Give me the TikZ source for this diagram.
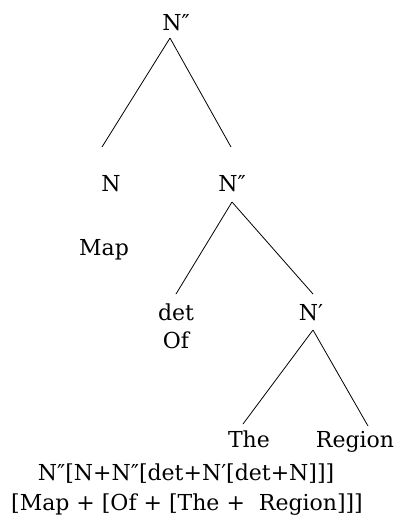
\documentclass[tikz,border=0pt]{standalone}
\usepackage{fontspec}
\setmainfont{DejaVu Serif}
\begin{document}
\begin{tikzpicture}[x=1pt,y=-1pt,
  lbl/.style={anchor=base,inner sep=0pt,font=\fontsize{22}{26}\selectfont},
  branch/.style={line width=0.8pt}]
\useasboundingbox (0,0) rectangle (401,523);

% tree labels
\node[lbl] (root)   at (176,30)  {N″};
\node[lbl] (n)      at (111,191) {N};
\node[lbl] (nbar)   at (232,191) {N″};
\node[lbl] (map)    at (104,255) {Map};
\node[lbl] (det)    at (176,320) {det};
\node[lbl] (of)     at (176,348) {Of};
\node[lbl] (nprime) at (311,320) {N′};
\node[lbl] (the)    at (249,447) {The};
\node[lbl] (region) at (355,447) {Region};

% bracketed summaries
\node[lbl] (struct) at (186,480) {N″[N+N″[det+N′[det+N]]]};
\node[lbl] (words)  at (187,510) {[Map + [Of + [The +~ Region]]]};

% branch end points
\coordinate (root-s)     at (170,38);
\coordinate (n-top)      at (102,147);
\coordinate (nbar-top)   at (231,147);
\coordinate (nbar-s)     at (232,202);
\coordinate (det-top)    at (176,294);
\coordinate (nprime-top) at (313,294);
\coordinate (nprime-s)   at (313,330);
\coordinate (the-top)    at (243,424);
\coordinate (region-top) at (368,426);

% branches
\draw[branch] (root-s) -- (n-top);
\draw[branch] (root-s) -- (nbar-top);
\draw[branch] (nbar-s) -- (det-top);
\draw[branch] (nbar-s) -- (nprime-top);
\draw[branch] (nprime-s) -- (the-top);
\draw[branch] (nprime-s) -- (region-top);
\end{tikzpicture}
\end{document}
